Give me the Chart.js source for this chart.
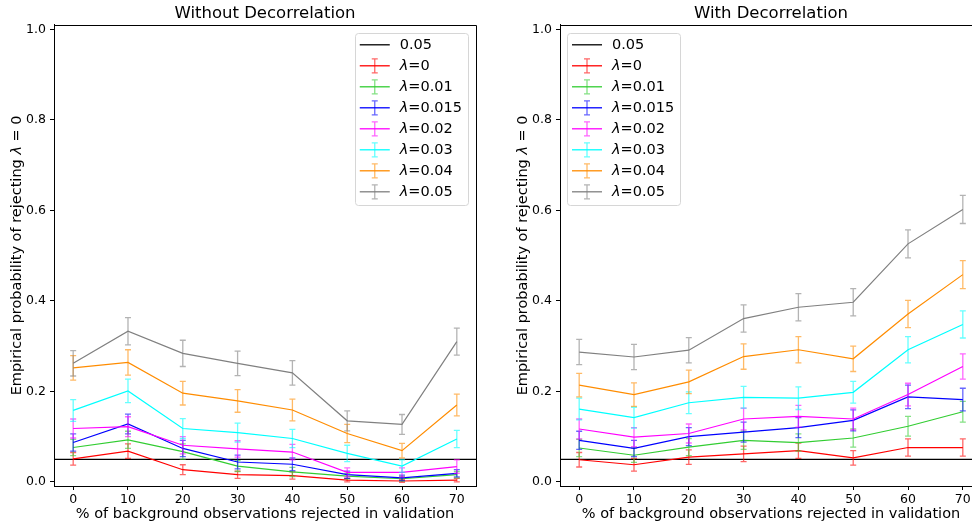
<!DOCTYPE html>
<html>
<head>
<meta charset="utf-8">
<script src="https://cdn.jsdelivr.net/npm/chart.js@4/dist/chart.umd.min.js"></script>
<style>
  html, body { margin: 0; padding: 0; background: #fff; overflow: hidden; }
  body { width: 972px; height: 523px; position: relative; }
  canvas { position: absolute; top: 0; }
  #panelWithout { left: 0; }
  #panelWith { left: 490px; }
</style>
</head>
<body>
<canvas id="panelWithout" width="490" height="523"></canvas>
<canvas id="panelWith" width="510" height="523"></canvas>
<script>
// x positions: % of background observations rejected
const percentRejected = [0, 10, 20, 30, 40, 50, 60, 70];
const yTicks = [0, 0.2, 0.4, 0.6, 0.8, 1.0];
const lambdaLabels = ["0", "0.01", "0.015", "0.02", "0.03", "0.04", "0.05"];
const lambdaColors = ["#ff0000", "#32cd32", "#0000ff", "#ff00ff", "#00ffff", "#ff8c00", "#808080"];
const alphaLevel = 0.05;

// rejection rate, one row per lambda (same order as lambdaLabels)
const rateWithout = [
  [0.051, 0.068, 0.027, 0.016, 0.014, 0.004, 0.002, 0.004],
  [0.076, 0.093, 0.067, 0.035, 0.022, 0.013, 0.007, 0.016],
  [0.087, 0.128, 0.074, 0.044, 0.039, 0.016, 0.009, 0.019],
  [0.118, 0.122, 0.081, 0.073, 0.066, 0.021, 0.021, 0.034],
  [0.158, 0.201, 0.118, 0.109, 0.096, 0.063, 0.035, 0.095],
  [0.252, 0.264, 0.196, 0.179, 0.159, 0.107, 0.069, 0.170],
  [0.262, 0.333, 0.284, 0.262, 0.241, 0.135, 0.127, 0.310],
];
const errWithout = [
  [0.014, 0.016, 0.011, 0.008, 0.008, 0.004, 0.003, 0.004],
  [0.018, 0.019, 0.017, 0.012, 0.010, 0.006, 0.005, 0.007],
  [0.019, 0.022, 0.018, 0.015, 0.014, 0.008, 0.006, 0.008],
  [0.021, 0.022, 0.019, 0.018, 0.017, 0.010, 0.010, 0.015],
  [0.024, 0.026, 0.022, 0.021, 0.020, 0.018, 0.014, 0.019],
  [0.027, 0.028, 0.026, 0.025, 0.024, 0.020, 0.016, 0.024],
  [0.028, 0.030, 0.029, 0.027, 0.027, 0.022, 0.022, 0.030],
];

const rateWith = [
  [0.049, 0.038, 0.055, 0.062, 0.069, 0.053, 0.076, 0.076],
  [0.075, 0.059, 0.077, 0.092, 0.087, 0.097, 0.123, 0.155],
  [0.092, 0.074, 0.100, 0.110, 0.120, 0.136, 0.188, 0.182],
  [0.117, 0.099, 0.107, 0.139, 0.145, 0.139, 0.193, 0.255],
  [0.161, 0.142, 0.175, 0.187, 0.185, 0.198, 0.292, 0.348],
  [0.214, 0.193, 0.221, 0.277, 0.292, 0.272, 0.371, 0.458],
  [0.287, 0.276, 0.291, 0.361, 0.386, 0.397, 0.526, 0.602],
];
const errWith = [
  [0.016, 0.014, 0.016, 0.017, 0.017, 0.016, 0.019, 0.019],
  [0.019, 0.016, 0.019, 0.020, 0.019, 0.020, 0.022, 0.023],
  [0.020, 0.018, 0.020, 0.022, 0.022, 0.023, 0.026, 0.025],
  [0.022, 0.021, 0.021, 0.024, 0.024, 0.024, 0.025, 0.028],
  [0.024, 0.023, 0.024, 0.024, 0.025, 0.024, 0.029, 0.030],
  [0.026, 0.026, 0.026, 0.028, 0.029, 0.028, 0.030, 0.031],
  [0.028, 0.028, 0.028, 0.030, 0.030, 0.030, 0.031, 0.031],
];

const FONT = "DejaVu Sans";
Chart.defaults.font.family = FONT;
Chart.defaults.color = "#000";

function withAlpha(hex, a) {
  const n = parseInt(hex.slice(1), 16);
  return `rgba(${n >> 16}, ${(n >> 8) & 255}, ${n & 255}, ${a})`;
}

// vertical error bars with caps, drawn right after their own line
const errorBarPlugin = {
  id: "errorBars",
  afterDatasetDraw(chart, args) {
    const ds = chart.data.datasets[args.index];
    if (!ds.errorValues) return;
    const y = chart.scales.y;
    const ctx = chart.ctx;
    ctx.save();
    ctx.strokeStyle = withAlpha(ds.borderColor, 0.6);
    ctx.lineWidth = 1.3;
    args.meta.data.forEach((pt, i) => {
      const v = ds.data[i].y, e = ds.errorValues[i];
      const top = y.getPixelForValue(v + e), bot = y.getPixelForValue(v - e);
      ctx.beginPath();
      ctx.moveTo(pt.x, top); ctx.lineTo(pt.x, bot);
      ctx.moveTo(pt.x - 3, top); ctx.lineTo(pt.x + 3, top);
      ctx.moveTo(pt.x - 3, bot); ctx.lineTo(pt.x + 3, bot);
      ctx.stroke();
    });
    ctx.restore();
  }
};

// top and right spines
const frameBoxPlugin = {
  id: "frameBox",
  afterDatasetsDraw(chart) {
    const { ctx, chartArea: a } = chart;
    ctx.save();
    ctx.strokeStyle = "#000";
    ctx.lineWidth = 1;
    ctx.beginPath();
    ctx.moveTo(Math.round(a.left) + 0.5, Math.round(a.top) + 0.5);
    ctx.lineTo(Math.round(a.right) + 0.5, Math.round(a.top) + 0.5);
    ctx.lineTo(Math.round(a.right) + 0.5, Math.round(a.bottom) + 0.5);
    ctx.stroke();
    ctx.restore();
  }
};

// y axis title with italic lambda
const yTitlePlugin = {
  id: "yTitle",
  afterDraw(chart) {
    const { ctx, chartArea: a } = chart;
    const parts = [["Empirical probability of rejecting ", ""], ["λ", "italic "], [" = 0", ""]];
    ctx.save();
    ctx.translate(a.left - 37, (a.top + a.bottom) / 2);
    ctx.rotate(-Math.PI / 2);
    ctx.fillStyle = "#000";
    ctx.textBaseline = "middle";
    let total = 0;
    parts.forEach(([t, s]) => { ctx.font = `${s}14.5px ${FONT}`; total += ctx.measureText(t).width; });
    let x = -total / 2;
    parts.forEach(([t, s]) => {
      ctx.font = `${s}14.5px ${FONT}`;
      ctx.fillText(t, x, 0);
      x += ctx.measureText(t).width;
    });
    ctx.restore();
  }
};

// legend box inside the axes: reference line first, then one entry per lambda
const lambdaLegendPlugin = {
  id: "lambdaLegend",
  afterDraw(chart, args, opts) {
    const { ctx, chartArea: a } = chart;
    const size = 14.5, rowH = 21, pad = 5, handle = 30, gap = 10;
    const entries = chart.data.datasets.slice().sort((p, q) => p.legendIndex - q.legendIndex);
    ctx.save();
    let maxW = 0;
    entries.forEach(ds => {
      let w = 0;
      if (ds.lambda !== undefined) {
        ctx.font = `italic ${size}px ${FONT}`; w += ctx.measureText("λ").width;
        ctx.font = `${size}px ${FONT}`; w += ctx.measureText("=" + ds.lambda).width;
      } else {
        ctx.font = `${size}px ${FONT}`; w = ctx.measureText(ds.label).width;
      }
      maxW = Math.max(maxW, w);
    });
    const boxW = pad + handle + gap + maxW + 6;
    const boxH = entries.length * rowH + 4;
    const left = opts.align === "right" ? a.right - 8 - boxW : a.left + 7;
    const top = a.top + 8;
    ctx.fillStyle = "rgba(255,255,255,0.8)";
    ctx.strokeStyle = "#d6d6d6";
    ctx.lineWidth = 1;
    ctx.beginPath();
    ctx.roundRect(Math.round(left) + 0.5, Math.round(top) + 0.5, Math.round(boxW), Math.round(boxH), 3);
    ctx.fill();
    ctx.stroke();
    entries.forEach((ds, i) => {
      const cy = top + 12 + i * rowH;
      const hx = left + pad;
      ctx.strokeStyle = ds.borderColor;
      ctx.lineWidth = 1.3;
      ctx.beginPath();
      ctx.moveTo(hx, cy); ctx.lineTo(hx + handle, cy);
      ctx.stroke();
      if (ds.errorValues) {
        const cx = hx + handle / 2;
        ctx.strokeStyle = withAlpha(ds.borderColor, 0.6);
        ctx.beginPath();
        ctx.moveTo(cx, cy - 7); ctx.lineTo(cx, cy + 7);
        ctx.moveTo(cx - 3, cy - 7); ctx.lineTo(cx + 3, cy - 7);
        ctx.moveTo(cx - 3, cy + 7); ctx.lineTo(cx + 3, cy + 7);
        ctx.stroke();
      }
      ctx.fillStyle = "#000";
      ctx.textBaseline = "middle";
      let tx = hx + handle + gap;
      if (ds.lambda !== undefined) {
        ctx.font = `italic ${size}px ${FONT}`;
        ctx.fillText("λ", tx, cy);
        tx += ctx.measureText("λ").width;
        ctx.font = `${size}px ${FONT}`;
        ctx.fillText("=" + ds.lambda, tx, cy);
      } else {
        ctx.font = `${size}px ${FONT}`;
        ctx.fillText(ds.label, tx, cy);
      }
    });
    ctx.restore();
  }
};

function buildDatasets(rates, errs) {
  const sets = [{
    label: String(alphaLevel),
    legendIndex: 0,
    data: [{ x: -3.5, y: alphaLevel }, { x: 73.5, y: alphaLevel }],
    borderColor: "#000000",
    borderWidth: 1.2,
    pointRadius: 0,
    order: 20,
  }];
  lambdaLabels.forEach((lam, k) => {
    sets.push({
      label: "λ=" + lam,
      lambda: lam,
      legendIndex: k + 1,
      data: percentRejected.map((x, i) => ({ x, y: rates[k][i] })),
      errorValues: errs[k],
      borderColor: lambdaColors[k],
      borderWidth: 1.2,
      pointRadius: 0,
      tension: 0,
      fill: false,
      order: 10 - k,
    });
  });
  return sets;
}

function makePanel(id, title, rates, errs, opt) {
  new Chart(document.getElementById(id), {
    type: "line",
    data: { datasets: buildDatasets(rates, errs) },
    plugins: [errorBarPlugin, frameBoxPlugin, yTitlePlugin, lambdaLegendPlugin],
    options: {
      responsive: false,
      animation: false,
      events: [],
      layout: { padding: { left: 0, right: opt.padRight, top: 0, bottom: 0 } },
      plugins: {
        legend: { display: false },
        tooltip: { enabled: false },
        title: {
          display: true,
          text: title,
          fullSize: false,
          color: "#000",
          font: { size: 16.5, weight: "normal" },
          padding: { top: 4, bottom: 1 },
        },
        lambdaLegend: { align: opt.legendAlign },
      },
      scales: {
        x: {
          type: "linear",
          min: -3.5,
          max: 73.5,
          afterBuildTicks: s => { s.ticks = percentRejected.map(v => ({ value: v })); },
          afterFit: s => { s.height = 37; },
          ticks: { font: { size: 12.5 }, padding: 2, maxRotation: 0, autoSkip: false, callback: v => String(v) },
          grid: { drawOnChartArea: false, tickLength: 4, color: "#000", tickWidth: 1 },
          border: { color: "#000", width: 1 },
          title: {
            display: true,
            text: "% of background observations rejected in validation",
            font: { size: 14.5 },
            padding: { top: 0, bottom: 0 },
          },
        },
        y: {
          type: "linear",
          min: -0.009,
          max: 1.01,
          afterBuildTicks: s => { s.ticks = yTicks.map(v => ({ value: v })); },
          afterFit: s => { s.width = opt.yWidth; },
          ticks: { font: { size: 12.5 }, padding: 4, callback: v => v.toFixed(1) },
          grid: { drawOnChartArea: false, tickLength: 4, color: "#000", tickWidth: 1 },
          border: { color: "#000", width: 1 },
        },
      },
    },
  });
}

makePanel("panelWithout", "Without Decorrelation", rateWithout, errWithout,
  { padRight: 14, yWidth: 54, legendAlign: "right" });
makePanel("panelWith", "With Decorrelation", rateWith, errWith,
  { padRight: 18, yWidth: 70, legendAlign: "left" });
</script>
</body>
</html>
